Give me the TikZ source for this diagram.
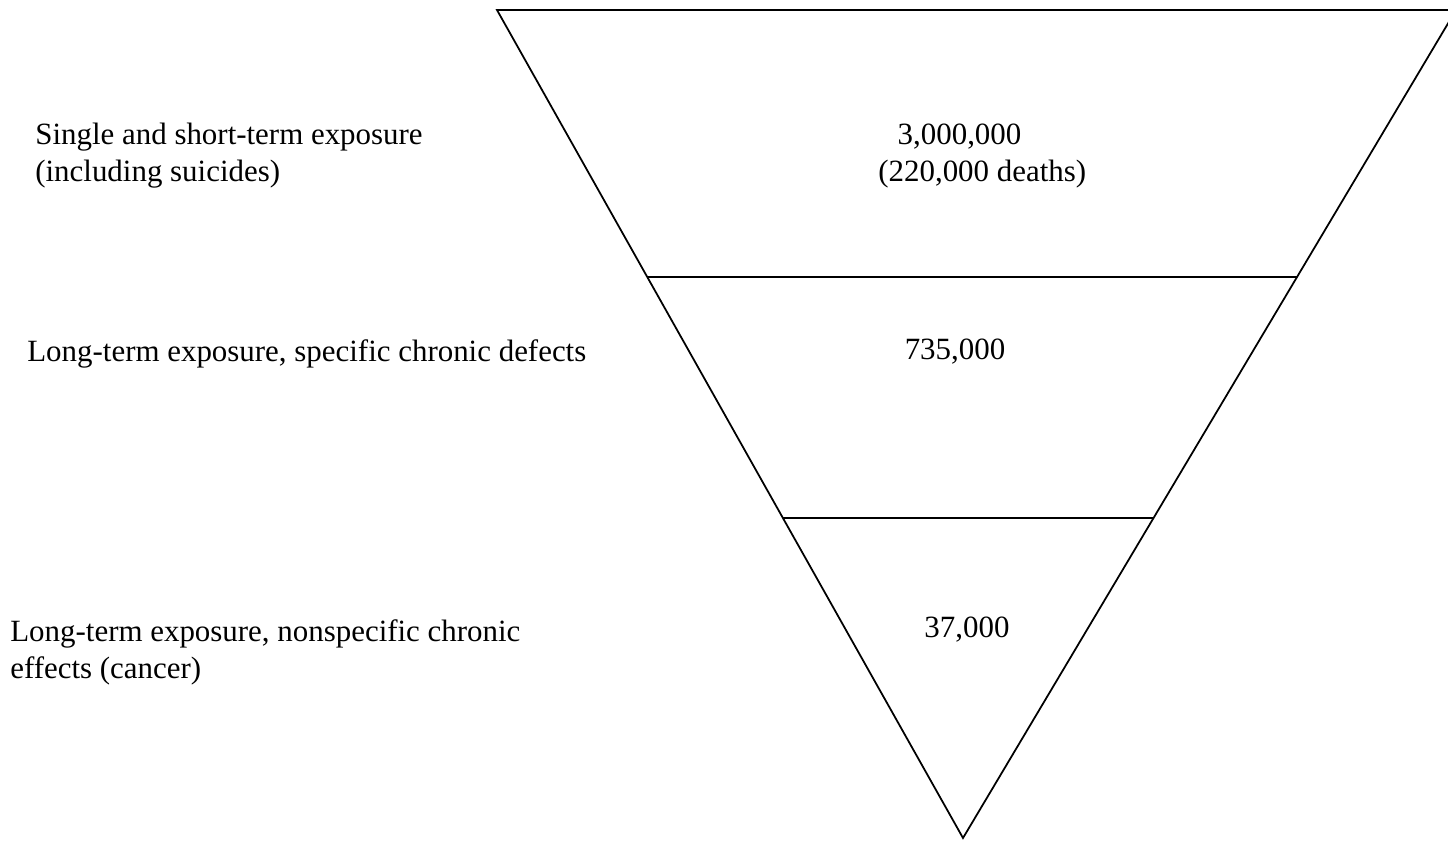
\documentclass[tikz,border=0pt]{standalone}
\usepackage{fontspec}
\setmainfont{Liberation Serif}
\usetikzlibrary{calc}

\begin{document}
\begin{tikzpicture}[
    x=0.02cm, y=-0.02cm,
    every node/.style={font=\fontsize{17.6}{21}\selectfont},
    edge/.style={line width=1pt, black},
    lbl/.style={anchor=west, align=left, inner sep=0pt},
    num/.style={anchor=center, align=left, inner sep=0pt}
]
\useasboundingbox (0,0) rectangle (1448,842);
\clip (0,0) rectangle (1448,842);

% funnel
\coordinate (tl) at (497,10);
\coordinate (tr) at (1456,10);
\coordinate (apex) at (963,838);
\coordinate (l1) at ($(tl)!0.3225!(apex)$);
\coordinate (r1) at ($(tr)!0.3225!(apex)$);
\coordinate (l2) at ($(tl)!0.6135!(apex)$);
\coordinate (r2) at ($(tr)!0.6135!(apex)$);

\draw[edge] (tl) -- (tr) -- (apex) -- cycle;
\draw[edge] (l1) -- (r1);
\draw[edge] (l2) -- (r2);

% counts
\node[num, anchor=west] (acute) at (878,156) {\hspace*{11pt}3,000,000\\(220,000 deaths)};
\node[num] (chronic) at (955,352) {735,000};
\node[num] (cancer) at (967,630) {37,000};

% exposure types
\node[lbl] (single) at (35,156) {Single and short-term exposure\\(including suicides)};
\node[lbl] (specific) at (27,354) {Long-term exposure, specific chronic defects};
\node[lbl] (nonspec) at (10,652) {Long-term exposure, nonspecific chronic\\effects (cancer)};

\end{tikzpicture}
\end{document}
